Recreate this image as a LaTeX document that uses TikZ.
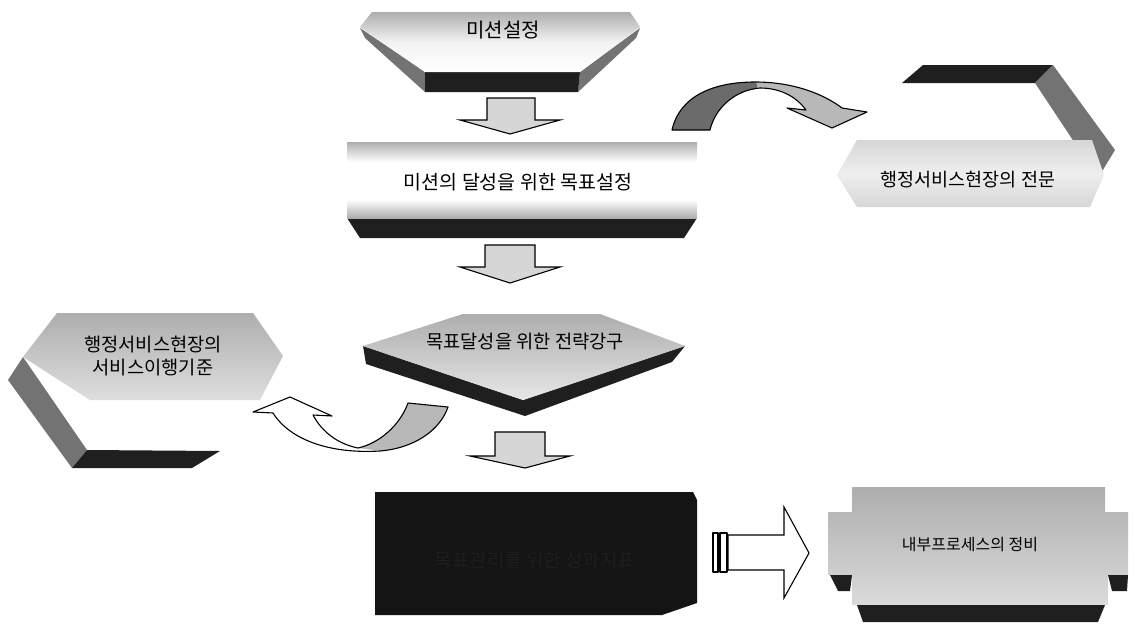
\documentclass[tikz,border=0pt]{standalone}
\usepackage{fontspec}
\newfontfamily\kr{Noto Sans CJK KR}
\definecolor{darkband}{gray}{0.12}
\definecolor{sideband}{gray}{0.45}
\definecolor{facegray}{gray}{0.68}
\definecolor{lightface}{gray}{0.84}
\definecolor{ribbondark}{gray}{0.42}
\definecolor{ribbonlight}{gray}{0.72}
\pgfdeclareverticalshading{bandshade}{100bp}{color(0bp)=(facegray); color(25bp)=(facegray); color(37bp)=(white); color(62bp)=(white); color(75bp)=(facegray); color(100bp)=(facegray)}
\tikzset{
  lbl/.style={inner sep=0pt, text=black, align=center},
  barrow/.style={draw=black, line width=1.1pt, fill=lightface, line join=miter},
  outl/.style={draw=black, line width=1.1pt, line join=round},
}
\newcommand{\fs}[1]{\kr\fontsize{#1pt}{#1pt}\selectfont}
\begin{document}
\begin{tikzpicture}[x=1pt,y=-1pt]
\useasboundingbox[fill=white] (0,0) rectangle (1134,624);

% ---------- box 1: 미션설정
\fill[sideband] (360,28) -- (425,72) -- (425,92) -- (365,38) -- cycle;
\fill[sideband] (640,28) -- (580,72) -- (578,92) -- (636,38) -- cycle;
\fill[darkband] (425,72) -- (580,72) -- (578,92) -- (425,92) -- cycle;
\shade[top color=facegray, bottom color=white, middle color=white!85!facegray]
  (360,27) -- (372,12) -- (630,12) -- (640,27) -- (580,72) -- (425,72) -- cycle;
\node[lbl, font=\fs{20}] (m1) at (503,30) {미션설정};

% ---------- arrow 1
\draw[barrow] (487,98) -- (535,98) -- (535,120) -- (560,120) -- (510,134) -- (460,120) -- (487,120) -- cycle;

% ---------- box 2: 미션의 달성을 위한 목표설정
\fill[darkband] (347,218) -- (697,218) -- (684,238) -- (360,238) -- cycle;
\shade[shading=bandshade] (347,142) rectangle (697,218);
\node[lbl, font=\fs{19.5}] (m2) at (518,182) {미션의 달성을 위한 목표설정};

% ---------- top curved arrow
\fill[ribbonlight] (672,130) .. controls (680,95) and (715,82) .. (755,82)
  .. controls (795,82) and (825,95) .. (842,108) -- (867,112) -- (832,128)
  -- (787,108) -- (806,110) .. controls (795,95) and (778,88) .. (760,88)
  .. controls (735,90) and (715,108) .. (710,130) -- cycle;
\begin{scope}
  \clip (600,60) rectangle (757,140);
  \fill[ribbondark] (672,130) .. controls (680,95) and (715,82) .. (755,82)
    -- (760,88) .. controls (735,90) and (715,108) .. (710,130) -- cycle;
\end{scope}
\draw[outl] (672,130) .. controls (680,95) and (715,82) .. (755,82)
  .. controls (795,82) and (825,95) .. (842,108) -- (867,112) -- (832,128)
  -- (787,108) -- (806,110) .. controls (795,95) and (778,88) .. (760,88)
  .. controls (735,90) and (715,108) .. (710,130) -- cycle;

% ---------- box top right: 행정서비스현장의 전문
\fill[darkband] (902,83) -- (923,65) -- (1053,65) -- (1035,83) -- cycle;
\fill[sideband] (1035,83) -- (1053,65) -- (1115,150) -- (1098,178) -- cycle;
\shade[top color=lightface, bottom color=lightface, middle color=white!60!lightface]
  (837,175) -- (857,140) -- (1092,140) -- (1104,175) -- (1090,207) -- (857,207) -- cycle;
\node[lbl, font=\fs{18.5}] (m3) at (968,180) {행정서비스현장의 전문};

% ---------- arrow 2
\draw[barrow] (485,245) -- (535,245) -- (535,267) -- (560,267) -- (510,283) -- (460,267) -- (485,267) -- cycle;

% ---------- box 3: 목표달성을 위한 전략강구
\fill[darkband] (363,346) -- (523,400) -- (685,346) -- (672,362) -- (525,416) -- (366,364) -- cycle;
\shade[top color=facegray, bottom color=white!70!facegray]
  (363,346) -- (463,314) -- (600,314) -- (685,346) -- (523,400) -- cycle;
\node[lbl, font=\fs{18.7}] (m4) at (525,342) {목표달성을 위한 전략강구};

% ---------- box left: 행정서비스현장의 서비스이행기준
\fill[sideband] (8,380) -- (23,357) -- (87,450) -- (72,468) -- cycle;
\fill[darkband] (87,450) -- (220,451) -- (192,468) -- (72,468) -- cycle;
\shade[top color=facegray, bottom color=white!60!facegray]
  (23,357) -- (57,313) -- (253,313) -- (283,356) -- (260,400) -- (90,400) -- cycle;
\node[lbl, font=\fs{18.7}] (m5) at (153,356) {행정서비스현장의\\[4pt]서비스이행기준};

% ---------- bottom-left curved arrow
\fill[white] (273,413) -- (253,412) -- (290,397) -- (332,416) -- (313,415)
  .. controls (322,432) and (338,444) .. (358,448)
  .. controls (330,452) and (290,440) .. (273,413) -- cycle;
\fill[ribbonlight] (358,448) .. controls (380,443) and (400,425) .. (408,403)
  -- (448,407) .. controls (440,430) and (415,448) .. (380,451) -- cycle;
\draw[outl] (273,413) -- (253,412) -- (290,397) -- (332,416) -- (313,415)
  .. controls (322,432) and (338,444) .. (358,448)
  .. controls (380,443) and (400,425) .. (408,403)
  -- (448,407) .. controls (440,430) and (415,448) .. (380,451)
  .. controls (330,454) and (290,440) .. (273,413) -- cycle;

% ---------- arrow 3
\draw[barrow] (495,432) -- (545,432) -- (545,456) -- (570,456) -- (525,468) -- (470,456) -- (495,456) -- cycle;

% ---------- black box
\fill[black!92] (375,492) -- (693,492) -- (697,500) -- (697,603) -- (662,615) -- (375,615) -- cycle;
\node[lbl, font=\fs{19}, text={rgb,255:red,30;green,30;blue,30}] (m6) at (535,560) {목표관리를 위한 성과지표};

% ---------- right block arrow with bars
\draw[outl, fill=white] (713,533) rectangle (718,572);
\draw[outl, fill=white] (720,533) rectangle (727,572);
\draw[outl, fill=white, line join=miter] (728,535) -- (784,535) -- (784,507) -- (809,553) -- (784,598) -- (784,570) -- (728,570) -- cycle;

% ---------- box bottom right: 내부프로세스의 정비
\shade[top color=facegray, bottom color=white!55!facegray]
  (852,487) -- (1105,487) -- (1105,512) -- (1128,512) -- (1128,575) -- (1108,575)
  -- (1108,605) -- (852,605) -- (852,575) -- (828,575) -- (828,512) -- (852,512) -- cycle;
\fill[darkband] (830,575) -- (852,575) -- (850,591) -- (838,591) -- cycle;
\fill[darkband] (1108,575) -- (1128,575) -- (1127,591) -- (1112,591) -- cycle;
\fill[darkband] (857,605) -- (1105,605) -- (1098,622) -- (863,622) -- cycle;
\node[lbl, font=\fs{16}] (m7) at (970,545) {내부프로세스의 정비};
\end{tikzpicture}
\end{document}
